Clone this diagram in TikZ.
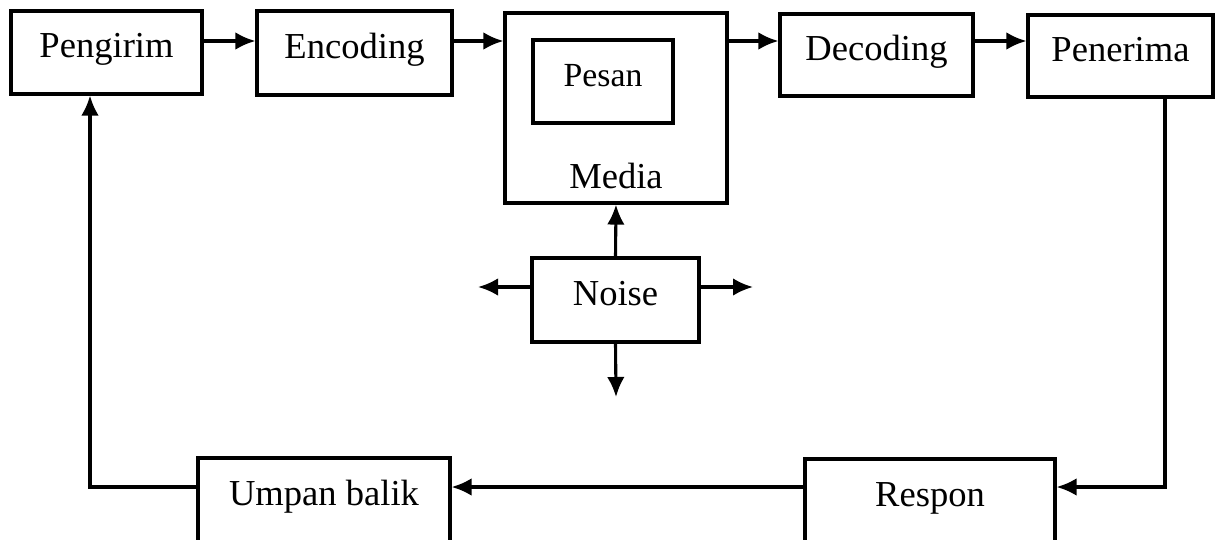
\documentclass[tikz,border=0pt]{standalone}
\usepackage{fontspec}
\setmainfont{Liberation Serif}
\usetikzlibrary{arrows.meta}

\tikzset{
  blok/.style={draw, line width=2.2pt, rectangle, inner sep=0pt,
    text height=0.65cm, text depth=0.4cm},
  arr/.style={-{Latex[length=0.5cm,width=0.44cm]}, line width=2.2pt}
}

\begin{document}
\begin{tikzpicture}[x=0.025cm, y=-0.025cm, font=\fontsize{26}{30}\selectfont]
      \useasboundingbox (0,0) rectangle (1215,539);
      % id / x / y / width / height / text
      \def \Boxes{
        pengirim/106.5/52.5/191/83/Pengirim,
        encoding/354.5/53/195/84/Encoding,
        decoding/876.5/55/193/82/Decoding,
        penerima/1120.5/56/185/82/Penerima,
        noise/615.5/300/167/84/Noise,
        respon/930/501/250/84/Respon,
        umpan/324/500/252/84/Umpan balik}
      \foreach \id / \x / \y / \w / \h / \t in \Boxes{
        \node[blok, minimum width=\w*0.025cm, minimum height=\h*0.025cm] (\id) at (\x, \y) {\t};
      }
      % media with the message inside
      \node[blok, minimum width=222*0.025cm, minimum height=190*0.025cm] (media) at (616, 108) {};
      \node[blok, minimum width=140*0.025cm, minimum height=83*0.025cm,
        font=\fontsize{24}{28}\selectfont] (pesan) at (603, 81.5) {Pesan};
      \node[anchor=base, inner sep=0pt] (medialbl) at ([yshift=16*0.025cm]media.south) {Media};

      \coordinate (row) at (0, 41);
      \coordinate (back) at (1165, 487);
      \coordinate (left) at (90, 487);
      \coordinate (nl) at (478, 287);
      \coordinate (nr) at (753, 287);
      \coordinate (nd) at (616, 397);

      \foreach \x / \y in {pengirim/encoding, encoding/media, media/decoding, decoding/penerima}{
        \draw[arr] (\x.east |- row) -- (\y.west |- row);
      }
      \draw[arr] (penerima.south -| back) -- (back) -- (respon.east |- back);
      \draw[arr] (respon.west |- back) -- (umpan.east |- back);
      \draw[arr] (umpan.west |- left) -- (left) -- (pengirim.south -| left);

      \draw[arr] (noise.north) -- (media.south);
      \draw[arr] (noise.west |- nl) -- (nl);
      \draw[arr] (noise.east |- nr) -- (nr);
      \draw[arr] (noise.south) -- (nd);
    \end{tikzpicture}
\end{document}
